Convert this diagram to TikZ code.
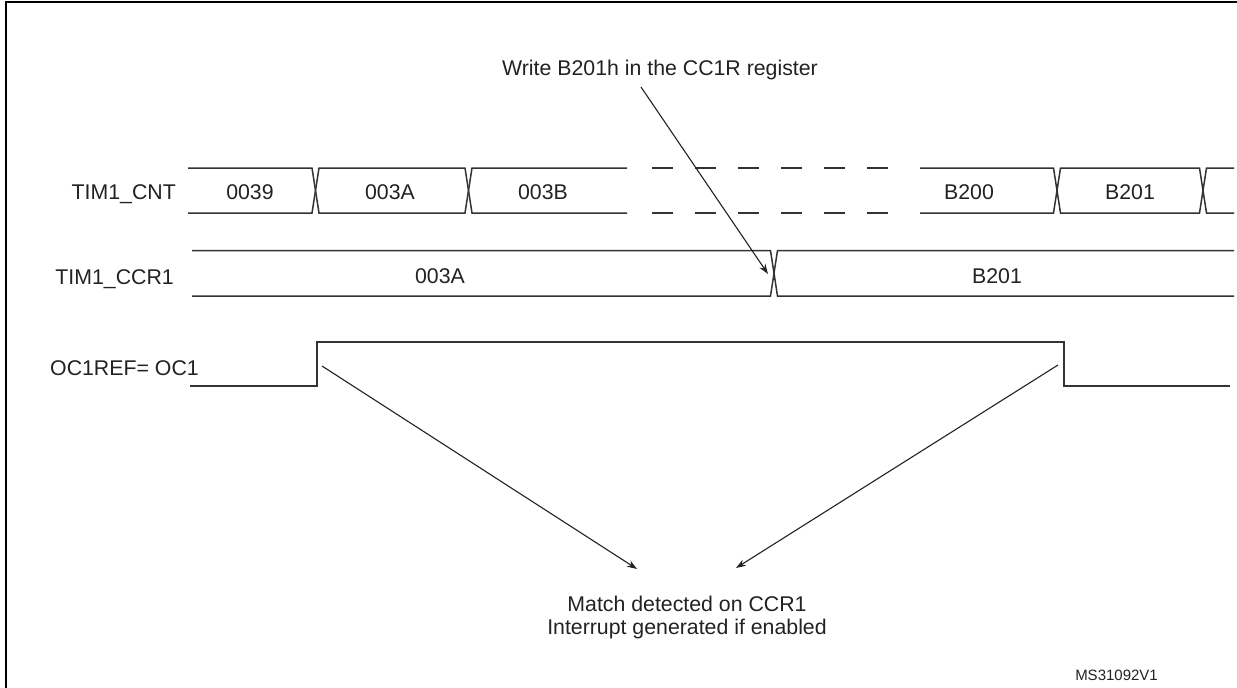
\documentclass[tikz,border=0pt]{standalone}
\usepackage{fontspec}
\setmainfont{Liberation Sans}
\usetikzlibrary{arrows.meta}
\definecolor{ink}{HTML}{222222}
\definecolor{wire}{HTML}{333333}
\begin{document}
\begin{tikzpicture}[x=1pt,y=-1pt,
  sig/.style={draw=wire,line width=1.5pt,line join=miter},
  frame/.style={draw=black,line width=2.5pt},
  lbl/.style={font=\fontsize{21.3}{23.5}\selectfont,text=ink,inner sep=0pt},
  small/.style={font=\fontsize{15}{17}\selectfont,text=ink,inner sep=0pt},
  arr/.style={draw=ink,line width=1.1pt,-{Stealth[length=10pt,width=7pt]}}]
\useasboundingbox (0,0) rectangle (1237,688);
% frame (top and left)
\draw[frame] (6,688) -- (6,2) -- (1237,2);

% signal names
\node[lbl,anchor=base east] (ncnt) at (176,199) {TIM1\_CNT};
\node[lbl,anchor=base east] (nccr) at (174,284) {TIM1\_CCR1};
\node[lbl,anchor=base west] (noc) at (50,375) {OC1REF= OC1};

% TIM1_CNT bus
\draw[sig] (188,168) -- (312,168) -- (315.5,190.5) -- (312,213) -- (188,213);
\draw[sig] (315.5,190.5) -- (319,168) -- (465,168) -- (468.5,190.5) -- (465,213) -- (319,213) -- cycle;
\draw[sig] (627,168) -- (472,168) -- (468.5,190.5) -- (472,213) -- (627,213);
\foreach \x in {652,695,738,781,824,867}{
  \draw[sig] (\x,168) -- ++(21,0);
  \draw[sig] (\x,213) -- ++(21,0);
}
\draw[sig] (920,168) -- (1053.5,168) -- (1057,190.5) -- (1053.5,213) -- (920,213);
\draw[sig] (1057,190.5) -- (1060.5,168) -- (1199.5,168) -- (1203,190.5) -- (1199.5,213) -- (1060.5,213) -- cycle;
\draw[sig] (1234,168) -- (1206.5,168) -- (1203,190.5) -- (1206.5,213) -- (1234,213);
\node[lbl,anchor=base] (c39) at (250,199) {0039};
\node[lbl,anchor=base] (c3a) at (390,199) {003A};
\node[lbl,anchor=base] (c3b) at (543,199) {003B};
\node[lbl,anchor=base] (cb200) at (969,199) {B200};
\node[lbl,anchor=base] (cb201) at (1130,199) {B201};

% TIM1_CCR1 bus
\draw[sig] (192,250.5) -- (770.5,250.5) -- (774,273.25) -- (770.5,296) -- (192,296);
\draw[sig] (1234,250.5) -- (777.5,250.5) -- (774,273.25) -- (777.5,296) -- (1234,296);
\coordinate (ccrx) at (768,274);
\node[lbl,anchor=base] (r3a) at (440,283) {003A};
\node[lbl,anchor=base] (rb201) at (997,283) {B201};

% OC1REF waveform
\draw[sig] (190,386) -- (317,386) -- (317,342) -- (1064,342) -- (1064,386) -- (1230,386);

% annotations
\node[lbl,anchor=base] (write) at (660,75) {Write B201h in the CC1R register};
\coordinate (wstart) at (641,87);
\draw[arr] (wstart) -- (ccrx);

\node[lbl,anchor=base] (match1) at (687,611) {Match detected on CCR1};
\node[lbl,anchor=base] (match2) at (687,634) {Interrupt generated if enabled};
\coordinate (rise) at (322,366);
\coordinate (fall) at (1058,365);
\coordinate (tipl) at (637,569);
\coordinate (tipr) at (736,568);
\draw[arr] (rise) -- (tipl);
\draw[arr] (fall) -- (tipr);

\node[small,anchor=base east] (ms) at (1158,680) {MS31092V1};
\end{tikzpicture}
\end{document}
